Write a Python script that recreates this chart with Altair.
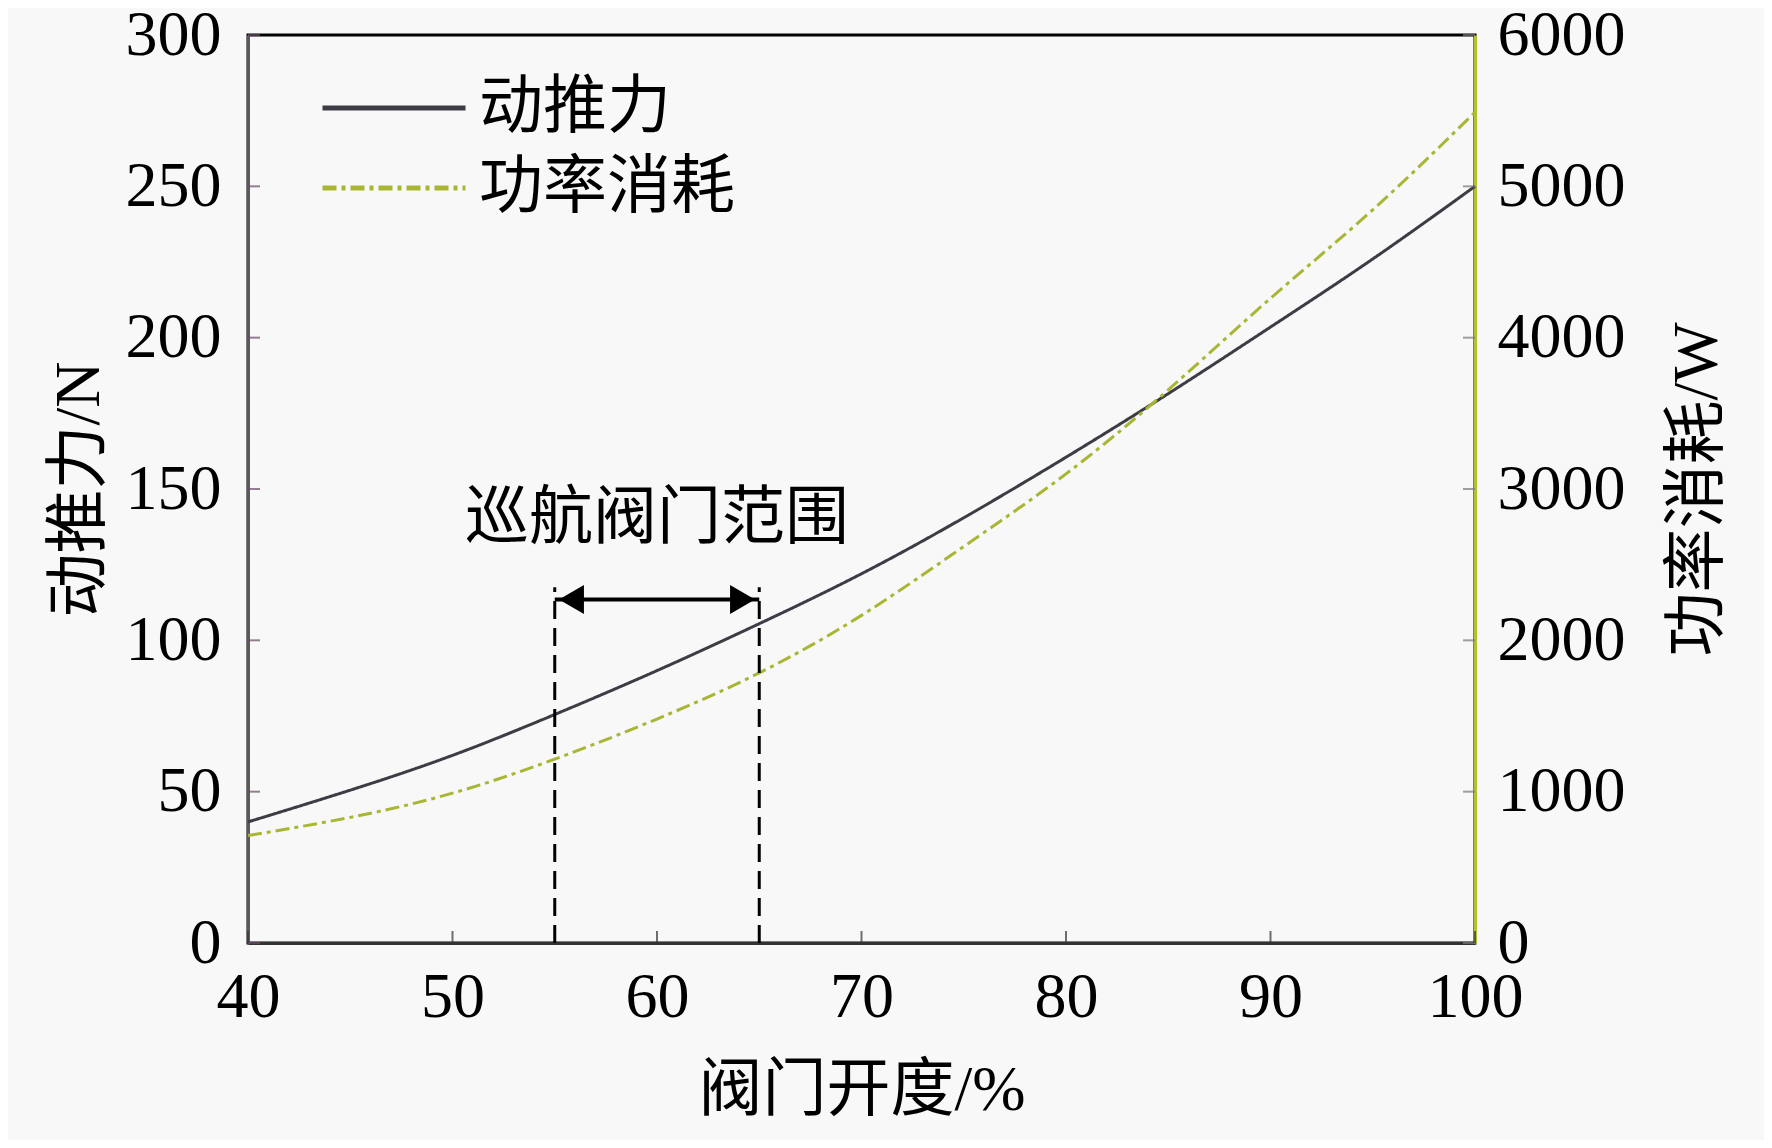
import altair as alt
import pandas as pd

# ---- data ----
opening = [40, 45, 50, 55, 60, 65, 70, 75, 80, 85, 90, 95, 100]          # 阀门开度 %
thrust = [40, 50.5, 62, 75.5, 90, 105.5, 122, 140.5, 160.5, 181.5, 203.5, 226, 250]  # 动推力 N
power = [710, 830, 990, 1215, 1480, 1785, 2165, 2620, 3100, 3655, 4260, 4845, 5490]  # 功率消耗 W
series_names = ["动推力", "功率消耗"]
x_ticks = [40, 50, 60, 70, 80, 90, 100]
left_ticks = [0, 50, 100, 150, 200, 250, 300]
right_ticks = [0, 1000, 2000, 3000, 4000, 5000, 6000]
cruise_range = [55, 65]
cruise_top = [117.5]
arrow_level = [113.5]
cruise_label = ["巡航阀门范围"]
cruise_label_pos = [60, 140]

FONT = "Liberation Serif, 'Noto Sans CJK SC', serif"
C_THRUST = "#3c3c44"
C_POWER = "#a9b634"

thrust_df = pd.DataFrame({"x": opening, "v": thrust, "series": series_names[0]})
power_df = pd.DataFrame({"x": opening, "v": power, "series": series_names[1]})


def xs():
    return alt.Scale(domain=[40, 100], nice=False)


def ls():
    return alt.Scale(domain=[0, 300], nice=False)


def rs():
    return alt.Scale(domain=[0, 6000], nice=False)


color_scale = alt.Scale(domain=series_names, range=[C_THRUST, C_POWER])
dash_scale = alt.Scale(domain=series_names, range=[[1, 0], [14, 5, 4, 5]])
legend = alt.Legend(orient="none", legendX=72, legendY=41, symbolType="stroke",
                    symbolSize=20449, symbolStrokeWidth=5, labelFontSize=64,
                    labelFont=FONT, labelColor="black", labelOffset=11, labelLimit=600,
                    clipHeight=64, rowPadding=16, padding=0)

x_axis = alt.Axis(values=x_ticks, title="阀门开度/%", labelFlush=False,
                  domainColor="#333333", labelPadding=22, titlePadding=29)
left_axis = alt.Axis(values=left_ticks, title="动推力/N", domainColor="#5a5a5a",
                     labelPadding=27, titlePadding=14)
right_axis = alt.Axis(orient="right", values=right_ticks, format="d", title="功率消耗/W",
                      titleAngle=270, titleBaseline="top", domainColor="#b3c22c",
                      labelPadding=22, titlePadding=40)


def X(field):
    return alt.X(field, scale=xs(), axis=x_axis)


thrust_line = alt.Chart(thrust_df).mark_line(strokeWidth=3, interpolate="natural").encode(
    x=X("x:Q"),
    y=alt.Y("v:Q", scale=ls(), axis=left_axis),
    color=alt.Color("series:N", scale=color_scale, legend=legend, title=None),
    strokeDash=alt.StrokeDash("series:N", scale=dash_scale, legend=legend, title=None),
)

power_line = alt.Chart(power_df).mark_line(strokeWidth=3, interpolate="natural").encode(
    x=X("x:Q"),
    y=alt.Y("v:Q", scale=rs(), axis=right_axis),
    color=alt.Color("series:N", scale=color_scale, legend=legend, title=None),
    strokeDash=alt.StrokeDash("series:N", scale=dash_scale, legend=legend, title=None),
)

left_tick_marks = alt.Chart(pd.DataFrame({"v": left_ticks, "x": [40] * len(left_ticks)})).mark_tick(
    orient="horizontal", size=12, thickness=2, color="#6a4a6a", xOffset=6).encode(
    x=X("x:Q"), y=alt.Y("v:Q", scale=ls(), axis=None))

right_tick_marks = alt.Chart(pd.DataFrame({"v": right_ticks, "x": [100] * len(right_ticks)})).mark_tick(
    orient="horizontal", size=12, thickness=2, color="#777777", xOffset=-6).encode(
    x=X("x:Q"), y=alt.Y("v:Q", scale=rs(), axis=None))

bottom_tick_marks = alt.Chart(pd.DataFrame({"x": x_ticks, "y": [0] * len(x_ticks)})).mark_tick(
    orient="vertical", size=12, thickness=2, color="#333333", yOffset=-6).encode(
    x=X("x:Q"), y=alt.Y("y:Q", scale=ls(), axis=None))

cruise_df = pd.DataFrame({"x": cruise_range, "y0": [0, 0], "y1": cruise_top * 2})
cruise_lines = alt.Chart(cruise_df).mark_rule(strokeDash=[18, 9], strokeWidth=3, color="black").encode(
    x=X("x:Q"), y=alt.Y("y0:Q", scale=ls(), axis=None), y2="y1:Q")

arrow_df = pd.DataFrame({"x": [cruise_range[0]], "x1": [cruise_range[1]], "y": arrow_level})
arrow_shaft = alt.Chart(arrow_df).mark_rule(strokeWidth=4, color="black").encode(
    x=X("x:Q"), x2="x1:Q", y=alt.Y("y:Q", scale=ls(), axis=None))
arrow_left = alt.Chart(pd.DataFrame({"x": [cruise_range[0]], "y": arrow_level})).mark_point(
    shape="triangle-left", filled=True, size=833, color="black", opacity=1, xOffset=16.7).encode(
    x=X("x:Q"), y=alt.Y("y:Q", scale=ls(), axis=None))
arrow_right = alt.Chart(pd.DataFrame({"x": [cruise_range[1]], "y": arrow_level})).mark_point(
    shape="triangle-right", filled=True, size=833, color="black", opacity=1, xOffset=-16.7).encode(
    x=X("x:Q"), y=alt.Y("y:Q", scale=ls(), axis=None))

label_df = pd.DataFrame({"x": [cruise_label_pos[0]], "y": [cruise_label_pos[1]], "t": cruise_label})
label = alt.Chart(label_df).mark_text(font=FONT, fontSize=64, color="black").encode(
    x=X("x:Q"), y=alt.Y("y:Q", scale=ls(), axis=None), text="t:N")

chart = alt.layer(
    thrust_line, power_line, cruise_lines, arrow_shaft, arrow_left, arrow_right,
    label, left_tick_marks, right_tick_marks, bottom_tick_marks,
).resolve_scale(y="independent").properties(
    width=1227, height=908,
    autosize=alt.AutoSizeParams(type="none"),
    padding={"left": 240, "top": 27, "right": 289, "bottom": 197},
    background="#f8f8f8",
).configure_view(stroke="black", strokeWidth=3).configure_axis(
    labelFont=FONT, titleFont=FONT, labelFontSize=64, titleFontSize=64,
    labelColor="black", titleColor="black", titleFontWeight="normal",
    grid=False, ticks=False, domainWidth=3, labelOverlap=False,
)

chart.save("out.html", embed_options={"renderer": "svg", "actions": False})
